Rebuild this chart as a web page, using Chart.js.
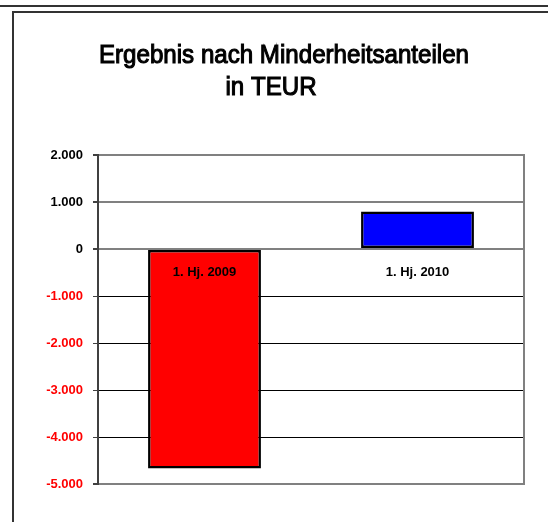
<!DOCTYPE html>
<html>
<head>
<meta charset="utf-8">
<script src="https://cdn.jsdelivr.net/npm/chart.js@4/dist/chart.umd.min.js"></script>
<style>
  html, body { margin: 0; padding: 0; background: #fff; overflow: hidden; }
  #wrap { position: relative; width: 548px; height: 522px; }
  #topline { position: absolute; left: 0; top: 5px; width: 548px; height: 0; border-top: 2px solid #333; }
  #frame { position: absolute; left: 12px; top: 11px; width: 600px; height: 600px; border-left: 2px solid #333; border-top: 2px solid #333; }
  canvas { position: absolute; left: 0; top: 0; }
</style>
</head>
<body>
<div id="wrap">
  <div id="topline"></div>
  <div id="frame"></div>
  <canvas id="chart" width="548" height="522"></canvas>
</div>
<script>
const titleLines = ["Ergebnis nach Minderheitsanteilen", "in TEUR"];
const categories = ["1. Hj. 2009", "1. Hj. 2010"];
const values = [-4670, 800];
const barColors = ["#ff0000", "#0000ff"];
const yMin = -5000;
const yMax = 2000;
const yStep = 1000;

function formatDE(v) {
  const s = Math.abs(v).toString().replace(/\B(?=(\d{3})+(?!\d))/g, ".");
  return (v < 0 ? "-" : "") + s;
}

// narrow-looking title line: regular font squeezed to a width
function drawTitleLine(ctx, text, cx, baseline, sx) {
  ctx.save();
  ctx.translate(cx, baseline);
  ctx.scale(sx, 1);
  ctx.fillText(text, 0, 0);
  ctx.lineWidth = 1.1;
  ctx.strokeText(text, 0, 0);
  ctx.restore();
}

// title, category labels and right border
const extras = {
  id: "extras",
  afterDraw(chart) {
    const ctx = chart.ctx;
    const area = chart.chartArea;
    const x = chart.scales.x;
    const y = chart.scales.y;
    ctx.save();
    ctx.fillStyle = "#000";
    ctx.strokeStyle = "#000";
    ctx.textAlign = "center";
    ctx.textBaseline = "alphabetic";
    ctx.font = "26px 'Liberation Sans', Arial, sans-serif";
    const sx = 370 / ctx.measureText(titleLines[0]).width;
    drawTitleLine(ctx, titleLines[0], 284, 63, sx);
    drawTitleLine(ctx, titleLines[1], 271, 95, sx);

    ctx.font = "bold 13px 'Liberation Sans', Arial, sans-serif";
    ctx.textBaseline = "middle";
    categories.forEach(function (c, i) {
      ctx.fillText(c, x.getPixelForValue(i), y.getPixelForValue(0) + 23);
    });

    ctx.strokeStyle = "#808080";
    ctx.lineWidth = 2;
    ctx.beginPath();
    ctx.moveTo(area.right, area.top - 1);
    ctx.lineTo(area.right, area.bottom + 1);
    ctx.stroke();
    ctx.restore();
  }
};

new Chart(document.getElementById("chart"), {
  type: "bar",
  data: {
    labels: categories,
    datasets: [{
      data: values,
      backgroundColor: barColors,
      borderColor: "#000",
      borderWidth: 2.5,
      borderSkipped: false,
      barPercentage: 0.53,
      categoryPercentage: 1
    }]
  },
  options: {
    responsive: false,
    animation: false,
    devicePixelRatio: 1,
    layout: { padding: { left: 0, top: 155, right: 24, bottom: 38 } },
    plugins: {
      legend: { display: false },
      title: { display: false },
      tooltip: { enabled: false }
    },
    scales: {
      x: { display: false },
      y: {
        min: yMin,
        max: yMax,
        afterFit: function (scale) { scale.width = 98; },
        border: { display: true, color: "#404040", width: 2 },
        grid: {
          color: function (c) {
            const v = c.tick.value;
            return (v < 0 && v > yMin) ? "#000" : "#808080";
          },
          lineWidth: function (c) {
            const v = c.tick.value;
            return (v < 0 && v > yMin) ? 1 : 2;
          },
          tickColor: "#404040",
          tickLength: 5
        },
        ticks: {
          stepSize: yStep,
          padding: 10,
          font: { family: "'Liberation Sans', Arial, sans-serif", size: 13, weight: "bold" },
          color: function (c) { return c.tick.value < 0 ? "#ff0000" : "#000"; },
          callback: function (v) { return formatDE(v); }
        }
      }
    }
  },
  plugins: [extras]
});
</script>
</body>
</html>
